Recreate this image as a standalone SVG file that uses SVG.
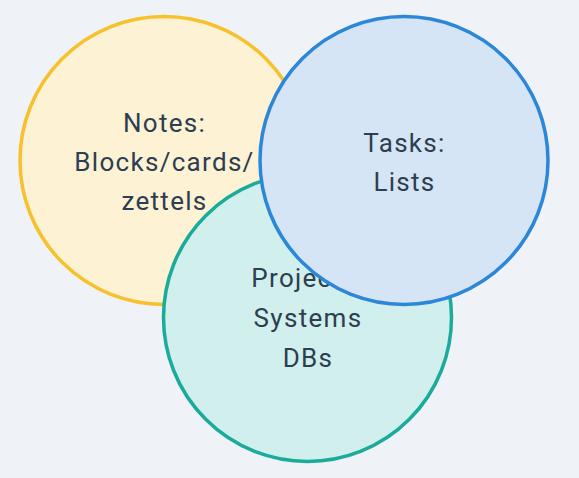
<svg xmlns="http://www.w3.org/2000/svg" width="579" height="478" viewBox="0 0 579 478">
<style>
.c{stroke-width:3.5}
.t{font-family:"Roboto","Liberation Sans",sans-serif;font-size:26px;letter-spacing:1.3px;fill:#2c3e50;text-anchor:middle}
</style>
<rect width="579" height="478" fill="#eff3f7"/>
<g id="notes">
<circle class="c" cx="164" cy="160.5" r="144" fill="#fdf2d4" stroke="#f6c12d"/>
<text class="t" x="164.5" y="132">Notes:</text>
<text class="t" x="164.5" y="171">Blocks/cards/</text>
<text class="t" x="164.5" y="210">zettels</text>
</g>
<g id="projects">
<circle class="c" cx="307.5" cy="317.5" r="144" fill="#d1efec" stroke="#1aab9b"/>
<text class="t" x="308" y="287">Projects:</text>
<text class="t" x="308" y="327">Systems</text>
<text class="t" x="308" y="367">DBs</text>
</g>
<g id="tasks">
<circle class="c" cx="404" cy="160.5" r="144" fill="#d5e5f5" stroke="#2d87d8"/>
<text class="t" x="404.5" y="152">Tasks:</text>
<text class="t" x="404.5" y="191">Lists</text>
</g>
<g id="connectors"/>
</svg>
